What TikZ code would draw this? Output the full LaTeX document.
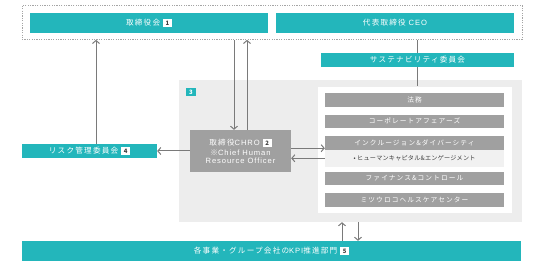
\documentclass[tikz,border=0pt]{standalone}
\usepackage{fontspec}
\setmainfont{Noto Sans CJK JP}[LetterSpace=16]
\newfontfamily\lat{Liberation Sans}[LetterSpace=12]
\usetikzlibrary{arrows.meta}
\definecolor{tealc}{RGB}{35,182,187}
\definecolor{barc}{RGB}{160,160,160}
\definecolor{panelc}{RGB}{237,237,237}
\definecolor{hcc}{RGB}{241,241,241}
\definecolor{linec}{RGB}{122,122,122}
\definecolor{dotc}{RGB}{165,165,165}
\definecolor{darkt}{RGB}{60,60,60}
\newcommand{\nbadge}[1]{{\setlength{\fboxsep}{1.2pt}\colorbox{white}{\makebox[6.5pt]{\rule{0pt}{5.6pt}\textcolor{darkt}{\fontsize{6}{6}\selectfont\addfontfeatures{LetterSpace=0}\bfseries #1}}}}}
\tikzset{
  tealbox/.style={fill=tealc, text=white, inner sep=0pt, font=\fontsize{7.6}{9}\selectfont},
  barbox/.style={fill=barc, text=white, inner sep=0pt, minimum width=179pt, font=\fontsize{6.7}{8}\selectfont},
  conn/.style={draw=linec, line width=1pt},
  arr/.style={conn, -{Straight Barb[length=3pt,width=7pt,line width=1pt]}},
}
\begin{document}
\begin{tikzpicture}[x=1pt,y=-1pt]
\useasboundingbox (0,0) rectangle (533,267);
% top group
\node[draw=dotc, line width=0.9pt, dash pattern=on 1.2pt off 1.2pt, minimum width=500pt, minimum height=34pt, inner sep=0pt] (topgrp) at (272,22.4) {};
\node[tealbox, minimum width=238pt, minimum height=20pt] (board) at (149,22.7) {取締役会 \nbadge{1}};
\node[tealbox, minimum width=238pt, minimum height=20pt] (ceo) at (395,22.7) {代表取締役 {\lat CEO}};
% panel 3
\node[fill=panelc, minimum width=343pt, minimum height=142pt, inner sep=0pt] (panel) at (350.5,151) {};
\node[fill=tealc, text=white, minimum width=10pt, minimum height=8pt, inner sep=0pt, font=\fontsize{6}{6}\selectfont\bfseries] (b3) at (191,92) {3};
\node[fill=white, minimum width=194pt, minimum height=126pt, inner sep=0pt] (white) at (415,149.7) {};
\node[barbox, minimum height=14pt] (legal) at (414.5,99.7) {法務};
\node[barbox, minimum height=13.5pt] (corp) at (414.5,121.3) {コーポレートアフェアーズ};
\node[barbox, minimum height=14pt] (incl) at (414.5,143) {インクルージョン\&ダイバーシティ};
\node[fill=hcc, text=darkt, inner sep=0pt, minimum width=179pt, minimum height=16.7pt, font=\fontsize{6.1}{7}\selectfont\addfontfeatures{LetterSpace=4}] (hc) at (414.5,158.3) {• ヒューマンキャピタル\&エンゲージメント};
\node[barbox, minimum height=13.5pt] (fin) at (414.5,178.3) {ファイナンス\&コントロール};
\node[barbox, minimum height=13.7pt] (mit) at (414.5,199.8) {ミツウロコヘルスケアセンター};
% CEO line and sustainability
\draw[conn] ([xshift=2]topgrp.south -| white.north) -- ([xshift=2]white.north);
\node[tealbox, minimum width=193pt, minimum height=14pt] (sus) at (417.5,59.7) {サステナビリティ委員会};
% CHRO
\node[fill=barc, text=white, minimum width=101pt, minimum height=42pt, inner sep=0pt, align=center, font=\fontsize{7.6}{10}\selectfont] (chro) at (240.5,151) {取締役{\lat CHRO} \nbadge{2}\\[-0.5pt]※{\lat Chief Human}\\[-2pt]{\lat Resource Officer}};
% risk
\node[tealbox, minimum width=135pt, minimum height=14pt] (risk) at (89.5,151) {リスク管理委員会 \nbadge{4}};
% KPI
\node[tealbox, minimum width=499pt, minimum height=20pt] (kpi) at (271.5,251) {各事業・グループ会社の{\lat KPI}推進部門 \nbadge{5}};
% connectors
\draw[arr] ([xshift=6.5]risk.north) -- ([xshift=6.5]risk.north |- topgrp.south);
\draw[arr] ([xshift=-6.5]chro.north |- topgrp.south) -- ([xshift=-6.5]chro.north);
\draw[arr] ([xshift=6.5]chro.north) -- ([xshift=6.5]chro.north |- topgrp.south);
\draw[arr] (chro.east |- incl.south) ++(0,-2) -- ([yshift=2]incl.south west);
\draw[arr] (hc.west) -- (chro.east |- hc.west);
\draw[arr] (chro.west |- risk.east) -- (risk.east);
\draw[arr] ([xshift=-8.5]panel.south |- kpi.north) -- ([xshift=-8.5]panel.south);
\draw[arr] ([xshift=7.5]panel.south) -- ([xshift=7.5]panel.south |- kpi.north);
\end{tikzpicture}
\end{document}
